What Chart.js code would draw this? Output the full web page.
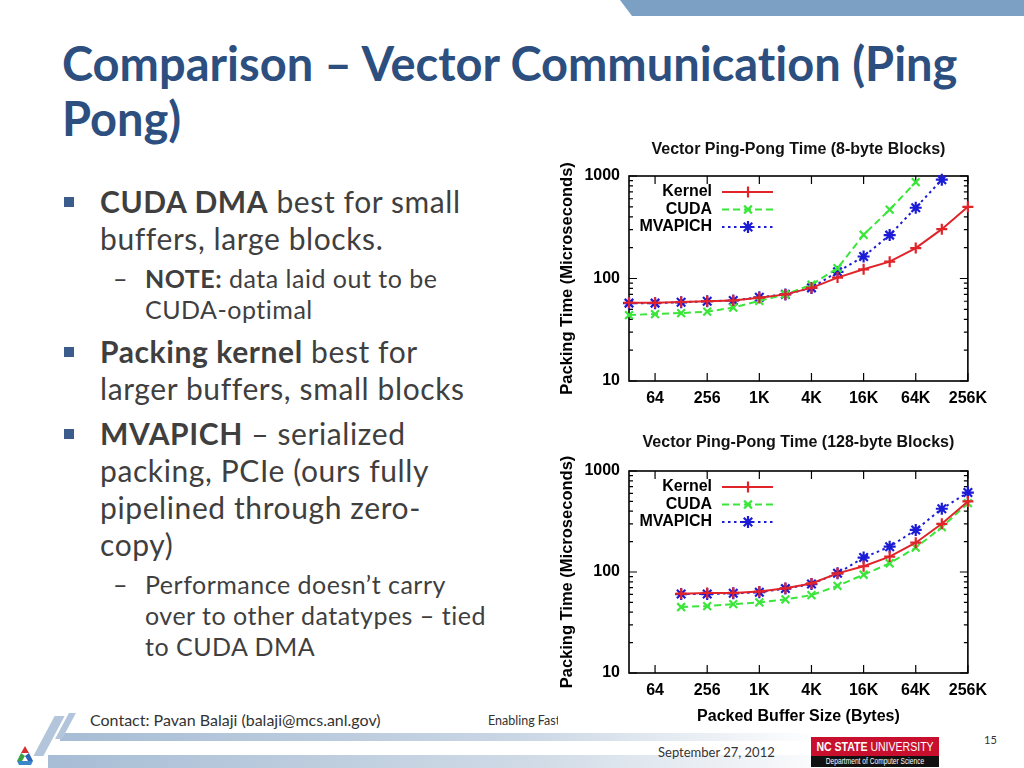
<!DOCTYPE html>
<html>
<head>
<meta charset="utf-8">
<script src="https://cdn.jsdelivr.net/npm/chart.js@4.4.0/dist/chart.umd.min.js"></script>
<style>
  html, body { margin: 0; padding: 0; background: #fff; }
  #slide { position: relative; width: 1024px; height: 768px; overflow: hidden; background: #fff; font-family: Lato, "Open Sans", sans-serif; color: #3f3f3f; font-variant-ligatures: none; font-feature-settings: "liga" 0; }
  .topbar { position: absolute; left: 620px; top: 0; width: 404px; height: 16px; background: #7ba0c4; clip-path: polygon(0 0, 100% 0, 100% 100%, 12px 100%); }
  .title { position: absolute; left: 62px; top: 36px; font-size: 47px; font-weight: bold; color: #2c4f80; line-height: 55px; }
  .ln { position: absolute; white-space: nowrap; }
  .l1 { left: 100px; font-size: 30px; letter-spacing: 0.6px; }
  .l2 { left: 145px; font-size: 25px; letter-spacing: 0.5px; }
  .sq { position: absolute; left: 64px; width: 10px; height: 10px; background: #3a5d8e; }
  .dash { position: absolute; left: 113px; font-size: 25px; }
  .foot { position: absolute; white-space: nowrap; color: #333; }
  .chartbox { position: absolute; background: #fff; overflow: hidden; }
  .band { position: absolute; }
  .logo { position: absolute; overflow: hidden; color: #fff; font-family: 'Liberation Sans', sans-serif; white-space: nowrap; }
  .logo span { position: absolute; left: 50%; top: 0; width: max-content; transform: translateX(-50%) scaleX(0.78); }
</style>
</head>
<body>
<div id="slide">
  <div class="topbar"></div>
  <div class="title">Comparison – Vector Communication (Ping<br>Pong)</div>

  <div class="sq" style="top:197px"></div>
  <div class="ln l1" style="top:183px"><b>CUDA DMA</b> best for small</div>
  <div class="ln l1" style="top:220px">buffers, large blocks.</div>
  <div class="dash" style="top:263px">–</div>
  <div class="ln l2" style="top:263px"><b>NOTE:</b> data laid out to be</div>
  <div class="ln l2" style="top:294px">CUDA-optimal</div>
  <div class="sq" style="top:347px"></div>
  <div class="ln l1" style="top:333px"><b>Packing kernel</b> best for</div>
  <div class="ln l1" style="top:370px">larger buffers, small blocks</div>
  <div class="sq" style="top:429px"></div>
  <div class="ln l1" style="top:415px"><b>MVAPICH</b> – serialized</div>
  <div class="ln l1" style="top:452px">packing, PCIe (ours fully</div>
  <div class="ln l1" style="top:489px">pipelined through zero-</div>
  <div class="ln l1" style="top:526px">copy)</div>
  <div class="dash" style="top:569px">–</div>
  <div class="ln l2" style="top:569px">Performance doesn’t carry</div>
  <div class="ln l2" style="top:600px">over to other datatypes – tied</div>
  <div class="ln l2" style="top:631px">to CUDA DMA</div>

  <!-- footer decoration -->
  <div class="band" style="left:60px; top:733px; width:760px; height:8px; background:linear-gradient(90deg,#a7bdd5,#c9d6e4 60%,rgba(255,255,255,0));"></div>
  <div class="band" style="left:48px; top:755px; width:800px; height:13px; background:linear-gradient(90deg,#a7bdd5,#cfdae6 60%,rgba(255,255,255,0));"></div>
  <div class="band" style="left:44px; top:716px; width:10px; height:40px; background:#b3c5da; transform:skewX(-28deg);"></div>
  <div class="band" style="left:62px; top:713px; width:7px; height:26px; background:#b3c5da; transform:skewX(-28deg);"></div>
  <svg style="position:absolute; left:17px; top:746px" width="16" height="20" viewBox="0 0 16 20">
    <polygon points="8,0 12,7 4,7" fill="#d62f2f"/>
    <polygon points="4,7 0,15 5,15 8,10" fill="#3aa040"/>
    <polygon points="12,7 16,15 11,15 8,10" fill="#2a62b8"/>
    <polygon points="0,15 16,15 14,19 2,19" fill="#3b86c8"/>
  </svg>
  <div class="foot" style="left:90px; top:710px; font-size:16px;">Contact: Pavan Balaji (balaji@mcs.anl.gov)</div>
  <div class="foot" style="left:488px; top:713px; font-size:12.5px;">Enabling Fast</div>
  <div class="foot" style="left:658px; top:744px; font-size:13px;">September 27, 2012</div>
  <div class="foot" style="left:984px; top:733px; font-size:11px;">15</div>
  <div class="logo" style="left:811px; top:737px; width:128px; height:19px; background:#c8102e; font-size:13.5px; line-height:19px;"><span><b>NC STATE</b> UNIVERSITY</span></div>
  <div class="logo" style="left:811px; top:756px; width:128px; height:11px; background:#111; font-size:8.5px; line-height:11px;"><span>Department of Computer Science</span></div>

  <div class="chartbox" style="left:558px; top:138px; width:437px; height:278px;">
    <div style="position:relative; width:437px; height:300px;"><canvas id="c8"></canvas></div>
  </div>
  <div class="chartbox" style="left:558px; top:430px; width:437px; height:300px;">
    <div style="position:relative; width:437px; height:300px;"><canvas id="c128"></canvas></div>
  </div>
</div>

<script>
// buffer sizes (bytes) and packing times (microseconds)
const sizes8 = [32, 64, 128, 256, 512, 1024, 2048, 4096, 8192, 16384, 32768, 65536, 131072, 262144];
const kernel8 = [58, 58, 59, 60, 61, 65, 70, 81, 102, 123, 146, 198, 303, 500];
const cuda8 = [44, 45, 46, 47.5, 52, 60.5, 70, 87, 126, 267, 470, 870, null, null];
const mvapich8 = [57.5, 57.5, 58.6, 60, 61, 65.5, 70, 81, 116, 164, 265, 490, 920, null];

const sizes128 = [128, 256, 512, 1024, 2048, 4096, 8192, 16384, 32768, 65536, 131072, 262144];
const kernel128 = [61, 62, 62, 64, 69, 77, 97, 114, 142, 195, 300, 500];
const cuda128 = [45, 46, 48, 50, 53.5, 59, 73, 94, 122, 174, 278, 480];
const mvapich128 = [60.5, 60.5, 61.5, 63, 68.5, 76, 97, 139, 178, 261, 423, 612];

const xTicks = [64, 256, 1024, 4096, 16384, 65536, 262144];
const yTicks = [10, 100, 1000];
const seriesNames = ["Kernel", "CUDA", "MVAPICH"];

const FONT = "'Liberation Sans', Arial, sans-serif";
const TXT = { family: FONT, size: 16, weight: "bold" };

function sizeLabel(v) {
    const n = Math.round(Math.pow(2, v));
    return n >= 1024 ? (n / 1024) + "K" : String(n);
}

// title, frame, inward ticks and key, gnuplot style
const frame = {
    id: "frame",
    beforeDatasetsDraw(chart, args, opts) {
        const { ctx, chartArea: a, scales: { x, y } } = chart;
        ctx.save();
        ctx.fillStyle = "#111";
        ctx.font = "bold 16px " + FONT;
        ctx.textAlign = "center";
        ctx.textBaseline = "middle";
        ctx.fillText(opts.title, (a.left + a.right) / 2, opts.titleY);

        ctx.strokeStyle = "#000";
        ctx.lineWidth = 1.6;
        ctx.strokeRect(a.left, a.top, a.right - a.left, a.bottom - a.top);
        ctx.lineWidth = 1.2;
        ctx.beginPath();
        xTicks.forEach(s => {
            const px = x.getPixelForValue(Math.log2(s));
            ctx.moveTo(px, a.bottom); ctx.lineTo(px, a.bottom - 8);
            ctx.moveTo(px, a.top); ctx.lineTo(px, a.top + 8);
        });
        for (let d = 10; d < 1000; d *= 10) {
            for (let m = 1; m <= 10; m++) {
                const py = y.getPixelForValue(d * m);
                const len = (m === 1 || m === 10) ? 8 : 4;
                ctx.moveTo(a.left, py); ctx.lineTo(a.left + len, py);
                ctx.moveTo(a.right, py); ctx.lineTo(a.right - len, py);
            }
        }
        ctx.stroke();
        ctx.restore();
    },
    afterDatasetsDraw(chart) {
        const { ctx, chartArea: a } = chart;
        ctx.save();
        ctx.font = "bold 16px " + FONT;
        ctx.textAlign = "right";
        ctx.textBaseline = "middle";
        chart.data.datasets.forEach((ds, i) => {
            const yy = a.top + 16 + i * 17.5;
            ctx.fillStyle = "#000";
            ctx.fillText(ds.label, a.left + 83, yy);
            ctx.strokeStyle = ds.borderColor;
            ctx.lineWidth = ds.borderWidth;
            ctx.setLineDash(ds.borderDash || []);
            ctx.beginPath();
            ctx.moveTo(a.left + 93, yy); ctx.lineTo(a.left + 144, yy);
            ctx.stroke();
            ctx.setLineDash([]);
            ctx.lineWidth = ds.pointBorderWidth;
            Chart.helpers.drawPoint(ctx, { pointStyle: ds.pointStyle, radius: ds.pointRadius, rotation: 0, borderWidth: ds.pointBorderWidth }, a.left + 119, yy);
        });
        ctx.restore();
    }
};

function pts(sizes, vals) {
    return sizes.map((s, i) => ({ x: Math.log2(s), y: vals[i] }));
}

function makeChart(id, title, sizes, kernel, cuda, mvapich, top, titleY) {
    const styles = [
        { color: "#e0242a", dash: [], pt: "cross", r: 5.5 },
        { color: "#3ae63a", dash: [7, 4], pt: "crossRot", r: 5.5 },
        { color: "#1c1cd6", dash: [2.5, 3.5], pt: "star", r: 6 }
    ];
    const vals = [kernel, cuda, mvapich];
    new Chart(document.getElementById(id), {
        type: "line",
        data: {
            datasets: vals.map((v, i) => ({
                label: seriesNames[i],
                data: pts(sizes, v),
                borderColor: styles[i].color,
                backgroundColor: styles[i].color,
                borderWidth: 2,
                borderDash: styles[i].dash,
                pointStyle: styles[i].pt,
                pointRadius: styles[i].r,
                pointBorderWidth: 2.2,
                pointBorderColor: styles[i].color,
                tension: 0,
                clip: false,
                spanGaps: false
            }))
        },
        options: {
            responsive: true,
            maintainAspectRatio: false,
            animation: false,
            events: [],
            layout: { padding: { top: top, right: 27, left: 0, bottom: 0 } },
            plugins: {
                legend: { display: false },
                tooltip: { enabled: false },
                title: { display: false },
                frame: { title: title, titleY: titleY }
            },
            scales: {
                x: {
                    type: "linear", min: 5, max: 18,
                    afterBuildTicks: s => { s.ticks = xTicks.map(v => ({ value: Math.log2(v) })); },
                    afterFit: s => { s.height = 57; },
                    ticks: { callback: sizeLabel, color: "#000", font: TXT, padding: 8, maxRotation: 0, autoSkip: false },
                    grid: { display: false, drawTicks: false },
                    border: { display: false },
                    title: { display: true, text: "Packed Buffer Size (Bytes)", color: "#000", font: TXT, padding: { top: 4, bottom: 4 } }
                },
                y: {
                    type: "logarithmic", min: 10, max: 1000,
                    afterBuildTicks: s => { s.ticks = yTicks.map(v => ({ value: v })); },
                    afterFit: s => { s.width = 71; },
                    ticks: { callback: v => String(v), color: "#000", font: TXT, padding: 9 },
                    grid: { display: false, drawTicks: false },
                    border: { display: false },
                    title: { display: true, text: "Packing Time (Microseconds)", color: "#000", font: { family: FONT, size: 16.5, weight: "bold" }, padding: 0 }
                }
            }
        },
        plugins: [frame]
    });
}

makeChart("c8", "Vector Ping-Pong Time (8-byte Blocks)", sizes8, kernel8, cuda8, mvapich8, 38, 12);
makeChart("c128", "Vector Ping-Pong Time (128-byte Blocks)", sizes128, kernel128, cuda128, mvapich128, 41, 13);
</script>
</body>
</html>
